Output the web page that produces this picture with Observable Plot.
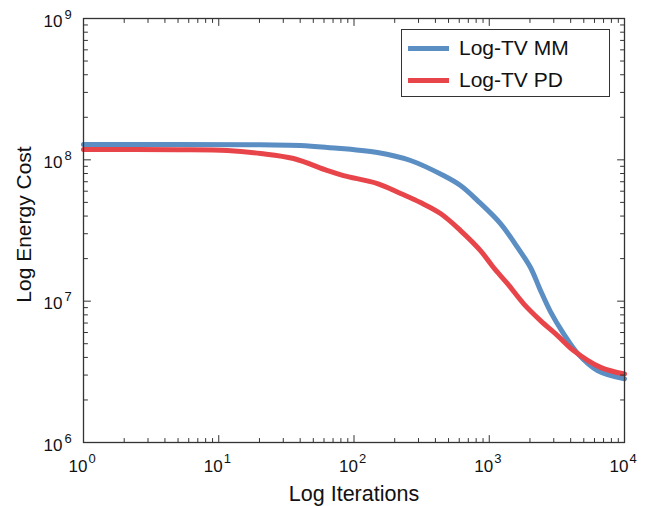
<!DOCTYPE html>
<html>
<head>
<meta charset="utf-8">
<script src="https://cdn.jsdelivr.net/npm/d3@7"></script>
<script src="https://cdn.jsdelivr.net/npm/@observablehq/plot@0.6"></script>
<style>
  html, body { margin: 0; padding: 0; background: white; }
  #wrap { position: relative; width: 647px; height: 506px; font-family: "Liberation Sans", Arial, Helvetica, sans-serif; }
  #legend { position: absolute; left: 401px; top: 29px; width: 207px; height: 66px; border: 1.3px solid #333; background: white; }
  .item { position: absolute; left: 6px; height: 32px; display: flex; align-items: center; font-size: 21px; color: #111; }
  .sw { width: 41px; height: 5px; margin-right: 10px; }
</style>
</head>
<body>
<div id="wrap"><div id="chart"></div><div id="legend"></div></div>
<script>
// Series names and colors
const seriesNames = ["Log-TV MM", "Log-TV PD"];
const seriesColors = ["#5b8ec3", "#e8454b"];

// Log-TV MM
const mmIter = [1, 5, 17, 40, 64, 149, 262, 459, 613, 819, 1211, 1618, 2018, 2393, 2840, 3540, 4498, 6310, 10000];
const mmCost = [1.284e8, 1.284e8, 1.28e8, 1.263e8, 1.223e8, 1.127e8, 9.89e7, 7.74e7, 6.58e7, 5.15e7, 3.54e7, 2.40e7, 1.73e7, 1.19e7, 8.4e6, 5.9e6, 4.27e6, 3.23e6, 2.82e6];

// Log-TV PD
const pdIter = [1, 5, 11.6, 20.4, 35.7, 63.7, 83.6, 149, 221, 310, 436, 613, 861, 1075, 1364, 1791, 2393, 3198, 4198, 6650, 10000];
const pdCost = [1.183e8, 1.18e8, 1.164e8, 1.109e8, 1.022e8, 8.40e7, 7.74e7, 6.80e7, 5.78e7, 4.99e7, 4.17e7, 3.16e7, 2.28e7, 1.73e7, 1.33e7, 9.62e6, 7.29e6, 5.71e6, 4.48e6, 3.40e6, 3.05e6];

// Ticks
const xMajor = [1, 10, 100, 1000, 10000];
const xExp = ["0", "1", "2", "3", "4"];
const yMajor = [1e6, 1e7, 1e8, 1e9];
const yExp = ["6", "7", "8", "9"];
const xMinor = [2,3,4,5,6,7,8,9,20,30,40,50,60,70,80,90,200,300,400,500,600,700,800,900,2000,3000,4000,5000,6000,7000,8000,9000];
const yMinor = [2e6,3e6,4e6,5e6,6e6,7e6,8e6,9e6,2e7,3e7,4e7,5e7,6e7,7e7,8e7,9e7,2e8,3e8,4e8,5e8,6e8,7e8,8e8,9e8];

const xTitle = "Log Iterations";
const yTitle = "Log Energy Cost";

const mm = mmIter.map((x, i) => ({x, y: mmCost[i], s: seriesNames[0]}));
const pd = pdIter.map((x, i) => ({x, y: pdCost[i], s: seriesNames[1]}));

const tickShape = { draw(ctx, l) { ctx.moveTo(0, 0); ctx.lineTo(0, -l); } };
const tc = "#333";
function ticksX(data, len) {
  return [
    Plot.vector(data, {x: d => d, frameAnchor: "bottom", length: len, rotate: 0, anchor: "start", shape: tickShape, stroke: tc, strokeWidth: 1}),
    Plot.vector(data, {x: d => d, frameAnchor: "top", length: len, rotate: 180, anchor: "start", shape: tickShape, stroke: tc, strokeWidth: 1})
  ];
}
function ticksY(data, len) {
  return [
    Plot.vector(data, {y: d => d, frameAnchor: "left", length: len, rotate: 90, anchor: "start", shape: tickShape, stroke: tc, strokeWidth: 1}),
    Plot.vector(data, {y: d => d, frameAnchor: "right", length: len, rotate: -90, anchor: "start", shape: tickShape, stroke: tc, strokeWidth: 1})
  ];
}

const chart = Plot.plot({
  width: 647,
  height: 506,
  marginLeft: 83,
  marginRight: 23,
  marginTop: 18,
  marginBottom: 64,
  style: {fontFamily: '"Liberation Sans", Arial, Helvetica, sans-serif', background: "white", color: "#111"},
  x: {type: "log", domain: [1, 1e4], axis: null},
  y: {type: "log", domain: [1e6, 1e9], axis: null},
  color: {domain: seriesNames, range: seriesColors},
  marks: [
    Plot.line(mm, {x: "x", y: "y", stroke: "s", strokeWidth: 5, curve: "catmull-rom"}),
    Plot.line(pd, {x: "x", y: "y", stroke: "s", strokeWidth: 5, curve: "catmull-rom"}),
    Plot.frame({stroke: "#333", strokeWidth: 1.3}),
    ...ticksX(xMajor, 7),
    ...ticksX(xMinor, 4),
    ...ticksY(yMajor, 7),
    ...ticksY(yMinor, 4),
    // x tick labels
    Plot.text(xMajor, {x: d => d, frameAnchor: "bottom", dy: 29, dx: 4, lineAnchor: "bottom", textAnchor: "end", text: () => "10", fontSize: 17}),
    Plot.text(xMajor, {x: d => d, frameAnchor: "bottom", dy: 20, dx: 5, lineAnchor: "bottom", textAnchor: "start", text: (d, i) => xExp[i], fontSize: 13}),
    // y tick labels
    Plot.text(yMajor, {y: d => d, frameAnchor: "left", dx: -21, dy: 8, lineAnchor: "bottom", textAnchor: "end", text: () => "10", fontSize: 17}),
    Plot.text(yMajor, {y: d => d, frameAnchor: "left", dx: -19, dy: 0, lineAnchor: "bottom", textAnchor: "start", text: (d, i) => yExp[i], fontSize: 13}),
    // axis titles
    Plot.text([xTitle], {frameAnchor: "bottom", dy: 58, lineAnchor: "bottom", textAnchor: "middle", text: d => d, fontSize: 21.5}),
    Plot.text([yTitle], {frameAnchor: "left", dx: -53, dy: -6, rotate: -90, lineAnchor: "bottom", textAnchor: "middle", text: d => d, fontSize: 21})
  ]
});
document.getElementById("chart").appendChild(chart);

const legend = document.getElementById("legend");
seriesNames.forEach((name, i) => {
  const item = document.createElement("div");
  item.className = "item";
  item.style.top = (2 + i * 32) + "px";
  const sw = document.createElement("div");
  sw.className = "sw";
  sw.style.background = seriesColors[i];
  item.appendChild(sw);
  item.appendChild(document.createTextNode(name));
  legend.appendChild(item);
});
</script>
</body>
</html>
